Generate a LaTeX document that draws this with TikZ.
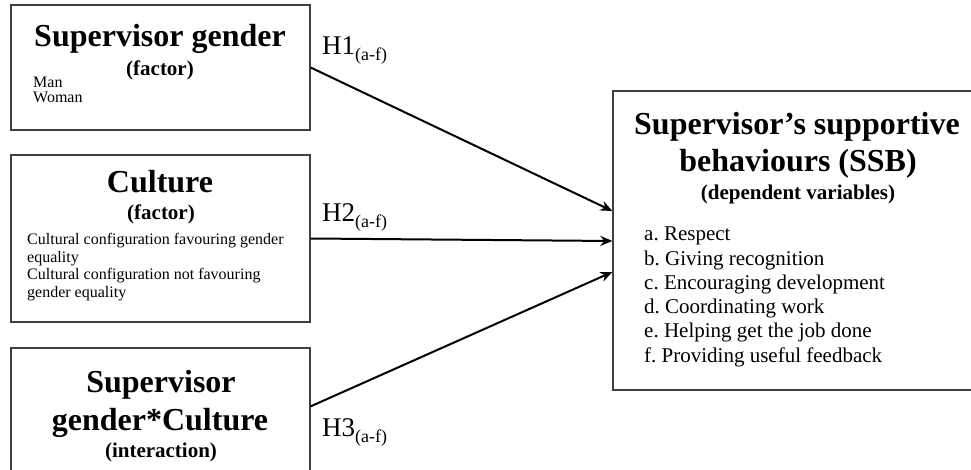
\documentclass[tikz,border=0pt]{standalone}
\usepackage{fontspec}
\setmainfont{Liberation Serif}
\usetikzlibrary{arrows.meta,positioning}
\newcommand{\hsub}[1]{#1\raisebox{-6pt}{\fontsize{18}{20}\selectfont(a-f)}}

\begin{document}
\frenchspacing
\begin{tikzpicture}[
  x=1pt, y=-1pt,
  box/.style={draw=black!75, line width=1.3pt, inner sep=0pt},
  ttl/.style={font=\fontsize{32}{36}\selectfont\bfseries, anchor=base, inner sep=0pt},
  sub/.style={font=\fontsize{21}{24}\selectfont\bfseries, anchor=base, inner sep=0pt},
  item/.style={font=\fontsize{16}{18}\selectfont, anchor=base west, inner sep=0pt},
  beh/.style={font=\fontsize{21}{24}\selectfont, anchor=base west, inner sep=0pt},
  hyp/.style={font=\fontsize{27}{30}\selectfont, anchor=base west, inner sep=0pt},
  arr/.style={-{Stealth[length=12pt,width=10pt,inset=4pt]}, line width=2pt}
]
\clip (0,0) rectangle (971,470);
\fill[white] (0,0) rectangle (971,470);
% predictor boxes
\node[box, minimum width=299pt, minimum height=125pt] (gender) at (160.5,67.5) {};
\node[box, minimum width=299pt, minimum height=167pt] (culture) at (160.5,238.5) {};
\node[box, minimum width=299pt, minimum height=150pt] (inter) at (160.5,423) {};
% outcome box
\node[box, minimum width=368pt, minimum height=299pt] (ssb) at (797,240.5) {};

\node[ttl] (gender-t) at (160,47) {Supervisor gender};
\node[sub] (gender-s) at (160,76) {(factor)};
\node[item, font=\fontsize{16}{15}\selectfont, align=left] (levels) at (33,102.5) {Man\\Woman};

\node[ttl] (culture-t) at (160,193) {Culture};
\node[sub] (culture-s) at (161,220) {(factor)};
\node[item] (cult1) at (27,245) {Cultural configuration favouring gender};
\node[item] (cult2) at (27,262.3) {equality};
\node[item] (cult3) at (27,279.6) {Cultural configuration not favouring};
\node[item] (cult4) at (27,297) {gender equality};

\node[ttl] (inter-t1) at (161,392) {Supervisor};
\node[ttl] (inter-t2) at (160,430) {gender*Culture};
\node[sub] (inter-s) at (161,457) {(interaction)};

\node[ttl] (ssb-t1) at (797,135) {Supervisor’s supportive};
\node[ttl] (ssb-t2) at (798,172) {behaviours (SSB)};
\node[sub] (ssb-s) at (798,200) {(dependent variables)};
\foreach \lbl [count=\i] in {a. Respect, b. Giving recognition, c. Encouraging development,
  d. Coordinating work, e. Helping get the job done, f. Providing useful feedback}
  \node[beh] (beh-\i) at (644,{241+24.2*(\i-1)}) {\lbl};

% hypotheses
\draw[arr] (gender.east) -- ([yshift=29.5pt]ssb.west);
\draw[arr] (culture.east) -- ([yshift=-0.5pt]ssb.west);
\draw[arr] ([yshift=-59pt]inter.north east) -- ([yshift=-31.5pt]ssb.west);
\node[hyp] (h1) at (322,55) {\hsub{H1}};
\node[hyp] (h2) at (322,222) {\hsub{H2}};
\node[hyp] (h3) at (322,436) {\hsub{H3}};
\end{tikzpicture}
\end{document}
